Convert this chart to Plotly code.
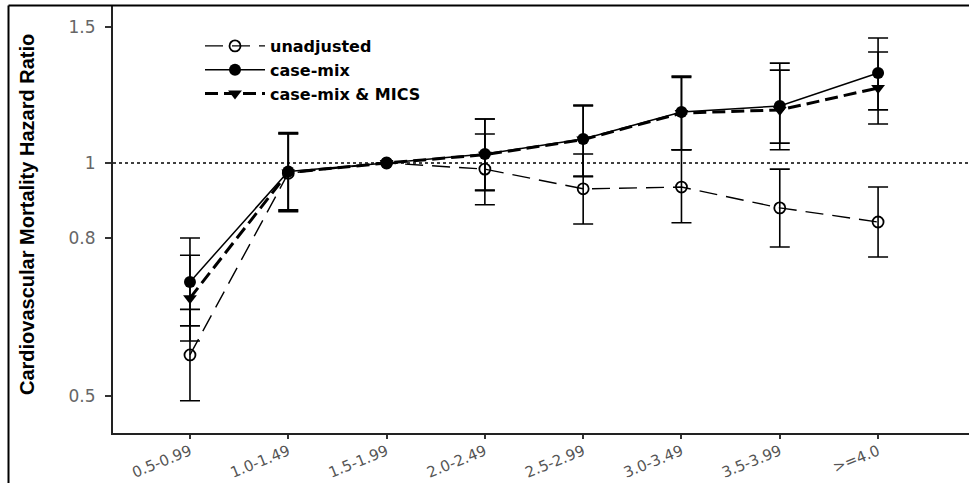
import plotly.graph_objects as go

categories = ["0.5-0.99", "1.0-1.49", "1.5-1.99", "2.0-2.49",
              "2.5-2.99", "3.0-3.49", "3.5-3.99", ">=4.0"]

# hazard ratios and 95% CI bounds per group
unadj = [0.565, 0.970, 1.0, 0.982, 0.926, 0.931, 0.875, 0.839]
unadj_lo = [0.493, 0.865, None, 0.883, 0.834, 0.837, 0.779, 0.756]
unadj_hi = [0.647, 1.090, None, 1.090, 1.027, 1.040, 0.982, 0.931]

casemix = [0.702, 0.975, 1.0, 1.027, 1.074, 1.164, 1.185, 1.307]
casemix_lo = [0.616, 0.870, None, 0.923, 0.962, 1.040, 1.061, 1.171]
casemix_hi = [0.800, 1.095, None, 1.140, 1.188, 1.295, 1.346, 1.450]

mics = [0.669, 0.972, 1.0, 1.025, 1.072, 1.160, 1.171, 1.250]
mics_lo = [0.589, 0.868, None, 0.921, 0.960, 1.040, 1.040, 1.123]
mics_hi = [0.760, 1.092, None, 1.140, 1.185, 1.290, 1.318, 1.391]

y_ticks = [0.5, 0.8, 1, 1.5]
y_tick_text = ["0.5", "0.8", "1", "1.5"]


def err(vals, lo, hi):
    plus = [None if h is None else h - v for v, h in zip(vals, hi)]
    minus = [None if l is None else v - l for v, l in zip(vals, lo)]
    return dict(type="data", symmetric=False, array=plus, arrayminus=minus,
                color="black", thickness=1.6, width=10)


xs = list(range(len(categories)))

fig = go.Figure()

fig.add_trace(go.Scatter(
    x=xs, y=unadj, name="unadjusted", mode="lines+markers",
    line=dict(color="black", width=1.4, dash="18px,9px"),
    marker=dict(symbol="circle-open", size=11, color="black",
                line=dict(width=1.8, color="black")),
    error_y=err(unadj, unadj_lo, unadj_hi)))

fig.add_trace(go.Scatter(
    x=xs, y=casemix, name="case-mix", mode="lines+markers",
    line=dict(color="black", width=1.5),
    marker=dict(symbol="circle", size=12, color="black"),
    error_y=err(casemix, casemix_lo, casemix_hi)))

fig.add_trace(go.Scatter(
    x=xs, y=mics, name="case-mix & MICS", mode="lines+markers",
    line=dict(color="black", width=3, dash="13px,6px"),
    marker=dict(symbol="triangle-down", size=12, color="black"),
    error_y=err(mics, mics_lo, mics_hi)))

# reference line at HR = 1
fig.add_shape(type="line", xref="paper", yref="y", x0=0, x1=1, y0=1, y1=1,
              line=dict(color="black", width=1.5, dash="dot"), layer="below")

# outer frame (top and left edges)
L, B, W, H = 113, 50, 856, 427
fig.add_shape(type="line", xref="paper", yref="paper",
              x0=(8.5 - L) / W, x1=(969 - L) / W,
              y0=(483 - B - 5.5) / H, y1=(483 - B - 5.5) / H,
              line=dict(color="black", width=2))
fig.add_shape(type="line", xref="paper", yref="paper",
              x0=(8.5 - L) / W, x1=(8.5 - L) / W,
              y0=-B / H, y1=(483 - B - 5.5) / H,
              line=dict(color="black", width=2))

fig.add_annotation(
    text="<b>Cardiovascular Mortality Hazard Ratio</b>", textangle=-90,
    xref="paper", yref="paper", x=(27 - L) / W, y=(433 - 215) / H,
    showarrow=False, xanchor="center", yanchor="middle",
    font=dict(family="Liberation Sans", size=20, color="black"))

fig.update_layout(
    width=969, height=483,
    margin=dict(l=L, r=0, t=6, b=B),
    paper_bgcolor="white", plot_bgcolor="white",
    showlegend=True,
    legend=dict(x=(200 - L) / W, y=(433 - 29) / H, xanchor="left", yanchor="top",
                bgcolor="rgba(0,0,0,0)", borderwidth=0, itemwidth=60,
                tracegroupgap=0,
                font=dict(family="DejaVu Sans", size=16, color="black",
                          weight="bold")),
    xaxis=dict(range=[-0.783, 7.925], tickmode="array", tickvals=xs,
               ticktext=categories, tickangle=-22, showgrid=False,
               automargin=False,
               zeroline=False, showline=True, linecolor="#222", linewidth=2,
               ticks="outside", ticklen=4, tickwidth=1.5, tickcolor="#333",
               ticklabelstandoff=-2,
               tickfont=dict(family="DejaVu Sans", size=15, color="#555")),
    yaxis=dict(type="log", range=[-0.3488, 0.2028], tickmode="array",
               tickvals=y_ticks, ticktext=y_tick_text, showgrid=False,
               automargin=False,
               zeroline=False, showline=True, linecolor="#222", linewidth=2,
               ticks="outside", ticklen=6, tickwidth=1.5, tickcolor="#333",
               ticklabelstandoff=6,
               tickfont=dict(family="DejaVu Sans", size=17, color="#666")),
)

fig.write_html("out.html")
